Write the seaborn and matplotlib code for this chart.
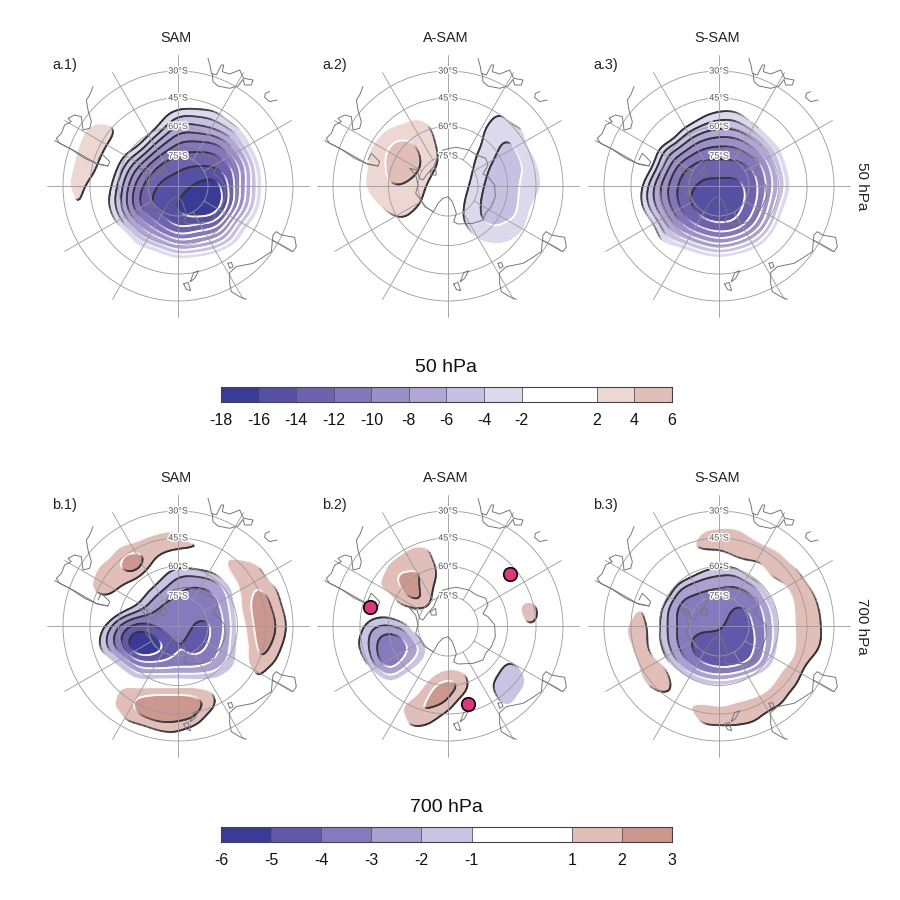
import numpy as np
import contourpy
import matplotlib
matplotlib.use("Agg")
import matplotlib.pyplot as plt
import matplotlib.patheffects as pe
from matplotlib.collections import LineCollection
from matplotlib.patches import Circle
import seaborn as sns

sns.set_theme(style="white")
plt.rcParams["font.family"] = ["Liberation Sans", "DejaVu Sans"]

levels_50 = [-18, -16, -14, -12, -10, -8, -6, -4, -2, 2, 4, 6]
colors_50 = ["#3a3a98", "#5650a5", "#6e62af", "#8476bb", "#9b8fc8", "#b0a7d6", "#c6c0e2", "#ddd9ed",
             "#ffffff", "#ecd7d3", "#e1beb8"]
levels_700 = [-6, -5, -4, -3, -2, -1, 1, 2, 3]
colors_700 = ["#3a3a98", "#6258aa", "#867abe", "#aaa0d2", "#cac4e4", "#ffffff", "#e1beb8", "#cc988e"]
ticks_50 = [-18, -16, -14, -12, -10, -8, -6, -4, -2, 2, 4, 6]
ticks_700 = [-6, -5, -4, -3, -2, -1, 1, 2, 3]
lat_rings = [-75, -60, -45, -30]
lon_lines = [0, 30, 60, 90, 120, 150, 180, 210, 240, 270, 300, 330]
grid_axis = [-120, -100, -80, -60, -40, -20, 0, 20, 40, 60, 80, 100, 120]

# negative lobes: values above zero only say "outside the lobe"; positive lobes the reverse
o = 8
a1_neg = [
 [o,o,o,o,o,o,o,o,o,o,o,o,o],
 [o,o,o,o,o,o,6,6,o,o,o,o,o],
 [o,o,o,o,6,1.5,-1,-1.2,-.3,4,o,o,o],
 [o,o,o,6,2.5,-2,-6.2,-6.2,-4.8,-1.6,3,o,o],
 [o,o,o,1.5,-2,-7.3,-10.5,-11,-10.3,-6.3,.3,6,o],
 [o,o,5,-2,-7.8,-12,-13.5,-14,-13.5,-10.3,-2.8,4,o],
 [o,o,2.4,-4.3,-11,-14.1,-14.9,-16.4,-16.6,-10.7,-3.5,3.5,o],
 [o,o,1.5,-4.8,-11.5,-14.5,-16,-18,-16.8,-10,-2.8,4,o],
 [o,o,4,-1.7,-7.5,-11.5,-14.2,-13.5,-12,-5,.5,6,o],
 [o,o,o,5,-1.9,-4.8,-7.6,-7,-5,-1,5,o,o],
 [o,o,o,o,6,3,1,1.6,3,o,o,o,o],
 [o,o,o,o,o,o,o,o,o,o,o,o,o],
 [o,o,o,o,o,o,o,o,o,o,o,o,o]]
n = -6
a1_pos = [
 [n,n,n,n,n,n,n,n,n,n,n,n,n],
 [n,n,n,n,n,n,n,n,n,n,n,n,n],
 [n,n,n,n,n,n,n,n,n,n,n,n,n],
 [n,-.5,3.5,1,n,n,n,n,n,n,n,n,n],
 [n,2.2,3.6,-1,n,n,n,n,n,n,n,n,n],
 [-3,3.5,2,n,n,n,n,n,n,n,n,n,n],
 [0,3.2,-1,n,n,n,n,n,n,n,n,n,n],
 [n,2.3,n,n,n,n,n,n,n,n,n,n,n],
 [n,-3,n,n,n,n,n,n,n,n,n,n,n],
 [n,n,n,n,n,n,n,n,n,n,n,n,n],
 [n,n,n,n,n,n,n,n,n,n,n,n,n],
 [n,n,n,n,n,n,n,n,n,n,n,n,n],
 [n,n,n,n,n,n,n,n,n,n,n,n,n]]
a2_neg = [
 [o,o,o,o,o,o,o,o,o,o,o,o,o],
 [o,o,o,o,o,o,o,o,o,o,o,o,o],
 [o,o,o,o,o,o,o,o,.5,0,o,o,o],
 [o,o,o,o,o,o,o,2,-2.3,-2.6,-.5,o,o],
 [o,o,o,o,o,o,o,0,-2.7,-4.4,-2,2,o],
 [o,o,o,o,o,o,5,-1,-3.8,-4.9,-3.4,0,o],
 [o,o,o,o,o,o,2,-1.9,-4.4,-5,-3,-1,o],
 [o,o,o,o,o,o,1,-2.6,-4.6,-4.9,-2.6,1,o],
 [o,o,o,o,o,o,2,-2.4,-3.9,-3.6,-1.8,o,o],
 [o,o,o,o,o,o,o,1,-1.6,-1.5,2,o,o],
 [o,o,o,o,o,o,o,o,o,o,o,o,o],
 [o,o,o,o,o,o,o,o,o,o,o,o,o],
 [o,o,o,o,o,o,o,o,o,o,o,o,o]]
a2_pos = [
 [n,n,n,n,n,n,n,n,n,n,n,n,n],
 [n,n,n,n,n,n,n,n,n,n,n,n,n],
 [n,n,n,n,-.5,-1,n,n,n,n,n,n,n],
 [n,n,-2,1.8,2.8,2.3,-2,n,n,n,n,n,n],
 [n,-3,1.6,3.9,4.3,3,0,n,n,n,n,n,n],
 [n,-2,2.2,4.2,4.9,3.2,0,n,n,n,n,n,n],
 [n,-1,2.4,3.8,3.7,1.8,-3,n,n,n,n,n,n],
 [n,-3,.5,2.7,2.9,.5,n,n,n,n,n,n,n],
 [n,n,-3,0,.5,-3,n,n,n,n,n,n,n],
 [n,n,n,n,n,n,n,n,n,n,n,n,n],
 [n,n,n,n,n,n,n,n,n,n,n,n,n],
 [n,n,n,n,n,n,n,n,n,n,n,n,n],
 [n,n,n,n,n,n,n,n,n,n,n,n,n]]
a3_neg = [
 [o,o,o,o,o,o,o,o,o,o,o,o,o],
 [o,o,o,o,o,o,6,o,o,o,o,o,o],
 [o,o,o,o,7,1.5,-.6,-.2,4,o,o,o,o],
 [o,o,o,o,-.2,-3.8,-5.3,-4.8,-1.5,4,o,o,o],
 [o,o,o,-1.4,-5.5,-9,-10,-9.5,-6.6,-1.9,5,o,o],
 [o,o,3,-4.5,-10.4,-12.7,-12.8,-12.6,-10.6,-4.8,2.5,o,o],
 [o,7,-.8,-7.5,-12.3,-14.2,-14.6,-14.4,-11.8,-6,1,o,o],
 [o,7,-1,-7,-12,-14.8,-15.5,-14.5,-11.2,-4.2,2.5,o,o],
 [o,o,3,-3.5,-9,-12.2,-13.5,-12.6,-8.5,-1.5,6,o,o],
 [o,o,o,-.4,-2.8,-5.5,-7.3,-5.8,-2.5,3,o,o,o],
 [o,o,o,o,5,2.5,1.5,2.5,5,o,o,o,o],
 [o,o,o,o,o,o,o,o,o,o,o,o,o],
 [o,o,o,o,o,o,o,o,o,o,o,o,o]]
a3_pos = [[n] * 13 for row in a3_neg]
p = 3
b1_neg = [
 [p,p,p,p,p,p,p,p,p,p,p,p,p],
 [p,p,p,p,p,p,p,p,p,p,p,p,p],
 [p,p,p,p,p,p,p,p,p,p,p,p,p],
 [p,p,p,p,p,.5,-.8,-.5,.3,p,p,p,p],
 [p,p,p,p,.5,-1.3,-2.6,-3,-2.3,0,p,p,p],
 [p,p,p,.5,-1.2,-2.9,-3.4,-3.4,-3.2,-.6,p,p,p],
 [p,3,0,-2.9,-4.4,-3.8,-3.3,-4.2,-3.6,-.9,p,p,p],
 [p,2,-.8,-3.5,-6,-5.4,-4,-4.4,-3.2,-.9,p,p,p],
 [p,p,1,-.9,-3.1,-3.4,-3.2,-3.1,-2.3,-.6,p,p,p],
 [p,p,p,1.5,0,.2,.2,0,0,1.5,p,p,p],
 [p,p,p,p,p,p,p,p,p,p,p,p,p],
 [p,p,p,p,p,p,p,p,p,p,p,p,p],
 [p,p,p,p,p,p,p,p,p,p,p,p,p]]
m = -3
b1_pos = [
 [m,m,m,m,m,m,m,m,m,m,m,m,m],
 [m,m,m,m,-.5,.3,.3,m,m,m,m,m,m],
 [m,m,-2,1,1.5,1.6,1.5,1.4,.8,-.7,-2,m,m],
 [m,-3,1.1,1.9,2.4,0,-2,m,.2,1.7,1.2,-2,m],
 [m,-.5,1.6,1.2,-.2,m,m,m,-2,1,1.95,.7,m],
 [m,m,-.3,-.5,m,m,m,m,m,.7,2.4,1.5,-1],
 [m,m,m,m,m,m,m,m,m,0,2.4,1.9,-.3],
 [m,m,m,m,m,m,m,m,m,-.5,2.2,1.5,-1],
 [m,m,m,m,m,m,m,m,m,-.4,1.7,.3,m],
 [m,m,m,.8,.9,.9,.9,.9,0,m,.3,m,m],
 [m,m,.5,1.1,2.3,2.8,2.8,2.3,.7,m,m,m,m],
 [m,m,m,0,.8,1.6,1.6,.8,-2,m,m,m,m],
 [m,m,m,m,m,-1,-.5,m,m,m,m,m,m]]
b2_neg = [
 [p,p,p,p,p,p,p,p,p,p,p,p,p],
 [p,p,p,p,p,p,p,p,p,p,p,p,p],
 [p,p,p,p,p,p,p,p,p,p,p,p,p],
 [p,p,p,p,p,p,p,p,p,p,p,p,p],
 [p,p,p,p,p,p,p,p,p,p,p,p,p],
 [p,p,1,.5,2,p,p,p,p,p,p,p,p],
 [p,1.2,-1.5,-2.1,-1.1,2,p,p,p,p,p,p,p],
 [p,.1,-1.9,-4.1,-3,-.8,3,p,p,1,p,p,p],
 [p,1.5,-1,-3.3,-1.9,0,p,p,1,-1.4,0,p,p],
 [p,p,2,-.3,.8,3,p,p,-.6,-1.8,-.8,p,p],
 [p,p,p,p,p,p,p,p,1,-1.3,1.5,p,p],
 [p,p,p,p,p,p,p,p,p,p,p,p,p],
 [p,p,p,p,p,p,p,p,p,p,p,p,p]]
b2_pos = [
 [m,m,m,m,m,m,m,m,m,m,m,m,m],
 [m,m,m,m,m,m,m,m,m,m,m,m,m],
 [m,m,m,-1,.8,.9,m,m,m,m,m,m,m],
 [m,m,-2,1.3,1.8,1.7,-.5,m,m,m,m,m,m],
 [m,m,.3,1.4,2.3,1.5,-.5,m,m,m,-2,m,m],
 [m,m,m,-.3,1.3,1.3,m,m,m,-1,2,-1,m],
 [m,m,m,m,m,m,m,m,m,m,.9,-1,m],
 [m,m,m,m,m,m,m,m,m,m,m,m,m],
 [m,m,m,m,m,-.5,.7,0,m,m,m,m,m],
 [m,m,m,m,-1,1.6,2.3,1.2,m,m,m,m,m],
 [m,m,m,-.5,1.5,2.1,1.6,-1,m,m,m,m,m],
 [m,m,m,m,.9,.9,-1,m,m,m,m,m,m],
 [m,m,m,m,m,m,m,m,m,m,m,m,m]]
b3_neg = [
 [p,p,p,p,p,p,p,p,p,p,p,p,p],
 [p,p,p,p,p,p,p,p,p,p,p,p,p],
 [p,p,p,p,p,p,2,p,p,p,p,p,p],
 [p,p,p,p,2,0,-.9,-.6,2,p,p,p,p],
 [p,p,p,2,-1.5,-2.6,-2.9,-2.9,-1.6,1.5,p,p,p],
 [p,p,3,-.4,-3.1,-3.4,-3.5,-4,-3.2,-.5,3,p,p],
 [p,p,2,-.9,-3.2,-3.7,-3.8,-4.5,-3.6,-1.1,3,p,p],
 [p,p,2,-.7,-3.1,-4.4,-4.6,-4.6,-3.7,-.9,3,p,p],
 [p,p,3,.5,-1.8,-3.6,-4.2,-4,-2.8,.2,3,p,p],
 [p,p,p,p,1,-.4,-1,-.3,1.3,3,p,p,p],
 [p,p,p,p,p,p,p,p,p,p,p,p,p],
 [p,p,p,p,p,p,p,p,p,p,p,p,p],
 [p,p,p,p,p,p,p,p,p,p,p,p,p]]
b3_pos = [
 [m,m,m,m,m,m,m,m,m,m,m,m,m],
 [m,m,m,m,m,.2,.9,.7,-1,m,m,m,m],
 [m,m,m,m,-.3,1.4,1.4,1.7,1.4,.5,-2,m,m],
 [m,m,m,m,m,-2,-1,.3,.8,1.6,.7,-2,m],
 [m,m,-3,m,m,m,m,-2,-.3,.6,1.6,0,m],
 [m,-3,1.1,-3,m,m,m,m,-3,-1.5,1.7,1,-2],
 [m,0,1.9,-1,m,m,m,m,m,-1.5,1.6,1.3,-1.5],
 [m,-1,1.9,-.8,m,m,m,m,m,-1.5,1.5,1.2,-2],
 [m,-3,1.3,1.5,-1,m,m,m,-2,.6,1.4,-.3,m],
 [m,m,0,1.7,.2,m,-2,-1,.2,1.4,.8,-2,m],
 [m,m,m,-1,.4,1.6,1.1,1.5,1.6,1.1,-1,m,m],
 [m,m,m,m,m,.5,1.1,1,.3,-2,m,m,m],
 [m,m,m,m,m,m,m,m,m,m,m,m,m]]

# outlines, three units to one map unit, origin at the pole
coast_antarctica = ([-85,-70,-43,-30,-15,0,13,25,17,30,75,105,113,130,142,140,120,105,120,113,85,63,25,5,-15,-30,-37,-43,-65,-75,-85,-93,-115,-97,-90,-97,-85],
                    [-37,-62,-77,-52,-37,-32,-47,-82,-107,-114,-112,-102,-82,-62,-32,3,28,36,63,83,93,108,116,113,108,88,73,58,33,18,23,48,53,33,3,-22,-37])
coast_ross = ([-53,-37,-35,-50,-53], [43,53,33,33,43])
coast_africa = ([90,97,100,115,130,137,133,155,185,197,225,220,200,195,180,155,120,105,103],
                [383,358,338,333,363,363,343,336,348,323,318,303,303,320,300,293,300,313,336])
coast_kerguelen = ([275,262,260,275,297], [283,278,266,253,258])
coast_australia = ([205,185,160,155,155,175,225,250,280,285,295,310,350,355,345,320,283],
                   [-340,-332,-317,-292,-260,-242,-232,-217,-197,-147,-137,-147,-154,-182,-197,-182,-162])
coast_tasmania = ([150,160,165,155,150], [-232,-229,-242,-247,-232])
coast_nz_north = ([37,47,62,50,37], [-287,-260,-254,-277,-287])
coast_nz_south = ([17,30,38,25,17], [-294,-289,-314,-310,-294])
coast_samerica = ([-255,-265,-275,-270,-260,-265,-285,-290,-310,-330,-320,-340,-350,-365,-355,-315,-280,-245,-210,-205,-220,-230,-240],
                  [298,273,258,228,193,173,168,208,213,203,193,183,158,143,128,108,88,68,60,73,88,98,78])
coast_samerica2 = ([-370,-325,-280,-240,-210], [136,113,83,65,60])
coasts = [coast_antarctica, coast_ross, coast_africa, coast_kerguelen, coast_australia,
          coast_tasmania, coast_nz_north, coast_nz_south, coast_samerica, coast_samerica2]
mark_x = [-235, 187, 59]
mark_y = [58, 156, -235]

W = H = 900
fig = plt.figure(figsize=(9, 9), dpi=100, facecolor="white")


def catmull(a, axis, n=12):
    a = np.moveaxis(np.asarray(a, float), axis, 0)
    m = a.shape[0]
    t = np.linspace(0, m - 1, (m - 1) * n + 1)
    i = np.clip(t.astype(int), 0, m - 2)
    f = (t - i).reshape((-1,) + (1,) * (a.ndim - 1))
    p0, p1, p2, p3 = a[np.clip(i - 1, 0, m - 1)], a[i], a[i + 1], a[np.clip(i + 2, 0, m - 1)]
    out = 0.5 * (2 * p1 + (p2 - p0) * f + (2 * p0 - 5 * p1 + 4 * p2 - p3) * f ** 2 + (3 * p1 - p0 - 3 * p2 + p3) * f ** 3)
    return np.moveaxis(out, 0, axis)


def soften(z, size=7, passes=2):
    k = np.ones(size) / size
    z = np.pad(z, size * passes, mode="edge")
    for _ in range(passes):
        z = np.apply_along_axis(lambda r: np.convolve(r, k, mode="same"), 0, z)
        z = np.apply_along_axis(lambda r: np.convolve(r, k, mode="same"), 1, z)
    c = size * passes
    return z[c:-c, c:-c]


def radius(lat):
    return 115 * 2 * np.sin(np.radians(90 + lat) / 2)


def emboss(ax, X, Y, Z, lines):
    step = X[0, 1] - X[0, 0]

    def sample(px, py):
        ix = np.clip(((px - X[0, 0]) / step).round().astype(int), 0, X.shape[1] - 1)
        iy = np.clip(((py - Y[0, 0]) / step).round().astype(int), 0, X.shape[0] - 1)
        return Z[iy, ix]

    gen = contourpy.contour_generator(X, Y, Z)
    for lev in lines:
        for poly in gen.lines(lev):
            if len(poly) < 3:
                continue
            d = 1.7
            up = sample(poly[:, 0] - d, poly[:, 1] + d)
            dn = sample(poly[:, 0] + d, poly[:, 1] - d)
            ea = sample(poly[:, 0] + d, poly[:, 1] + d)
            we = sample(poly[:, 0] - d, poly[:, 1] - d)
            s = (up - dn) / (np.hypot(up - dn, ea - we) + 1e-9)
            sm = 0.5 * (s[:-1] + s[1:])
            rgba = np.zeros((len(poly) - 1, 4))
            dark = sm > 0
            rgba[dark, :3] = (0.2, 0.2, 0.23)
            rgba[~dark, :3] = (1, 1, 1)
            rgba[:, 3] = np.clip(np.abs(sm) * 1.3 - 0.05, 0, 1)
            segs = np.stack([poly[:-1], poly[1:]], axis=1)
            ax.add_collection(LineCollection(segs, colors=rgba, linewidths=1.3, zorder=2, capstyle="round"))


def panel(cx, cy, neg, pos, levels, colors, title, tag):
    w, h = 280, 330
    ax = fig.add_axes([(cx - w / 2) / W, 1 - (cy + h / 2) / H, w / W, h / H])
    ax.set_xlim(-w / 2, w / 2)
    ax.set_ylim(-h / 2, h / 2)
    ax.axis("off")
    ax.patch.set_alpha(0)
    gx = np.linspace(grid_axis[0], grid_axis[-1], (len(grid_axis) - 1) * 12 + 1)
    Zn = soften(catmull(catmull(neg, 0), 1))[::-1, :]
    Zp = soften(catmull(catmull(pos, 0), 1))[::-1, :]
    Z = np.minimum(Zn, 0) + np.maximum(Zp, 0)
    X, Y = np.meshgrid(gx, gx)
    eps = 1e-3
    Zc = np.clip(Z, levels[0] + eps, levels[-1] - eps)
    ax.contourf(X, Y, Zc, levels=levels, colors=colors, zorder=1, antialiased=True)
    emboss(ax, X, Y, Zc, list(levels[1:-1]))
    for lat in lat_rings:
        ax.add_patch(Circle((0, 0), radius(lat), fill=False, ec="#9a9a9a", lw=0.6, zorder=3))
    for lon in lon_lines:
        th = np.radians(lon)
        start = 0 if lon % 90 == 0 else radius(-75)
        ax.plot([start * np.cos(th), 131 * np.cos(th)], [start * np.sin(th), 131 * np.sin(th)],
                color="#9a9a9a", lw=0.6, zorder=3)
    for cxs, cys in coasts:
        ax.plot(np.array(cxs) / 3, np.array(cys) / 3, color="#777777", lw=0.7, zorder=4)
    for lat in lat_rings:
        ax.text(0, radius(lat), f"{abs(lat)}°S", fontsize=6.5, color="#555555", ha="center", va="center", zorder=5,
                path_effects=[pe.withStroke(linewidth=2, foreground="white")])
    ax.text(-2, 148, title, fontsize=10.4, color="#222222", ha="center", va="center")
    ax.text(-126, 121, tag, fontsize=10.4, color="#222222", ha="left", va="center")
    return ax


centres_x = [178, 448, 719]
row_a = [(a1_neg, a1_pos), (a2_neg, a2_pos), (a3_neg, a3_pos)]
row_b = [(b1_neg, b1_pos), (b2_neg, b2_pos), (b3_neg, b3_pos)]
titles = ["SAM", "A-SAM", "S-SAM"]
for i in range(3):
    panel(centres_x[i], 186, row_a[i][0], row_a[i][1], levels_50, colors_50, titles[i], f"a.{i + 1})")
for i in range(3):
    ax = panel(centres_x[i], 626, row_b[i][0], row_b[i][1], levels_700, colors_700, titles[i], f"b.{i + 1})")
    if i == 1:
        sns.scatterplot(x=np.array(mark_x) / 3, y=np.array(mark_y) / 3, s=95, color="#e0357f", edgecolor="black",
                        linewidth=1.2, ax=ax, zorder=6, legend=False, clip_on=False)
        ax.set_xlabel("")
        ax.set_ylabel("")


def colorbar(top, bottom, levels, colors, ticks, label, title_y):
    ax = fig.add_axes([221 / W, 1 - bottom / H, 451 / W, (bottom - top) / H])
    for j in range(len(colors)):
        ax.axvspan(levels[j], levels[j + 1], color=colors[j], lw=0)
        if j:
            ax.axvline(levels[j], color="#555555", lw=0.6)
    ax.set_xlim(levels[0], levels[-1])
    ax.set_ylim(0, 1)
    ax.set_yticks([])
    ax.set_xticks(ticks)
    ax.set_xticklabels([str(t) for t in ticks], fontsize=11.5, color="#111111")
    ax.tick_params(axis="x", length=0, pad=8, bottom=False)
    for s in ax.spines.values():
        s.set_visible(True)
        s.set_color("#444444")
        s.set_linewidth(0.8)
    fig.text(446 / W, 1 - title_y / H, label, fontsize=14, ha="center", va="center", color="#111111")


colorbar(387, 402, levels_50, colors_50, ticks_50, "50 hPa", 367)
colorbar(827, 842, levels_700, colors_700, ticks_700, "700 hPa", 807)
fig.text(862 / W, 1 - 186 / H, "50 hPa", rotation=-90, fontsize=11, ha="center", va="center", color="#222222")
fig.text(862 / W, 1 - 626 / H, "700 hPa", rotation=-90, fontsize=11, ha="center", va="center", color="#222222")
fig.savefig("out.png", dpi=100, facecolor="white")
